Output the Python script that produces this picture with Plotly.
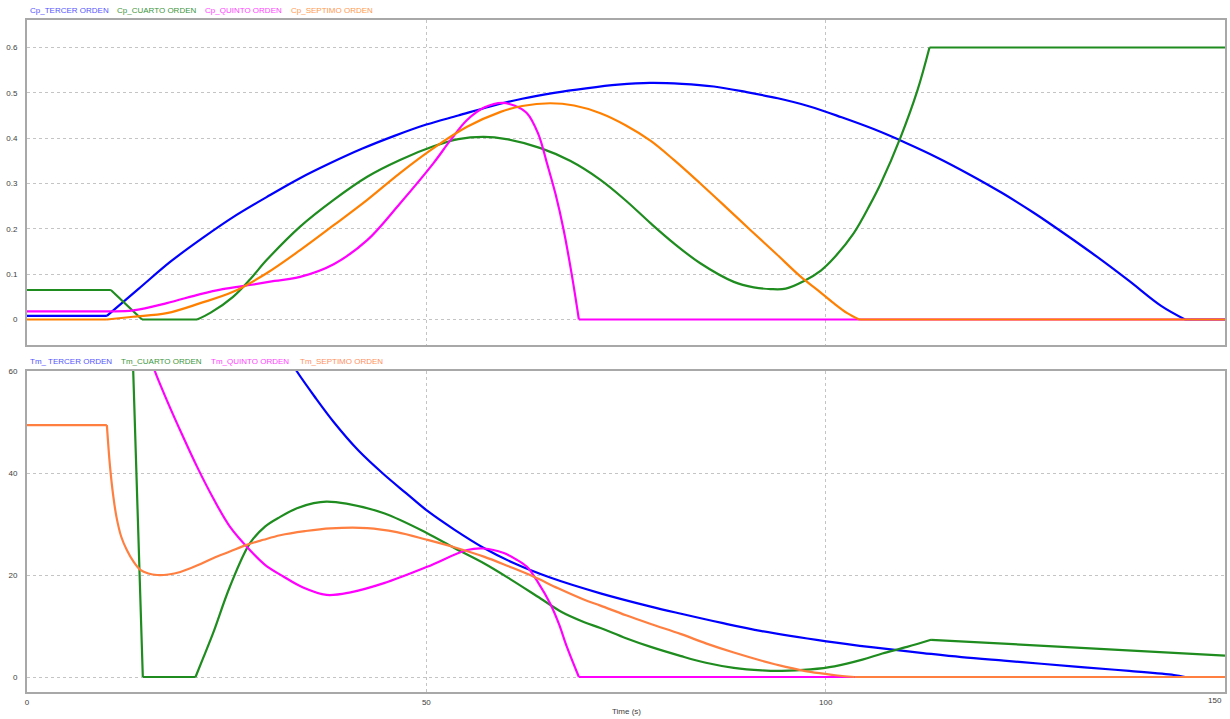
import plotly.graph_objects as go

# ---------------- Data ----------------
# Top panel: Cp
t_cp_tercer = [0, 10, 14, 18, 22, 26, 30, 34, 38, 42, 46, 50, 54, 58, 62, 66, 70, 74, 78, 82, 86, 90,
               94, 98, 102, 106, 110, 114, 118, 122, 126, 130, 134, 138, 142, 145, 150]
cp_tercer = [0.008, 0.008, 0.068, 0.128, 0.18, 0.228, 0.27, 0.31, 0.345, 0.377, 0.405, 0.43, 0.45, 0.47,
             0.487, 0.50, 0.51, 0.518, 0.522, 0.52, 0.514, 0.502, 0.488, 0.47, 0.446, 0.42, 0.39, 0.357,
             0.32, 0.28, 0.236, 0.188, 0.138, 0.085, 0.03, 0.0, 0.0]

t_cp_cuarto = [0, 10.5, 14.4, 21.3, 23, 25.8, 28, 30, 34.2, 38.4, 42.6, 46.7, 50.9, 54, 57.2, 60, 64.3,
               68, 71.8, 75, 78.1, 81, 84.3, 88.5, 91, 93.1, 95, 97.3, 99.4, 101, 103.5, 105.6, 106.9,
               109.4, 111.5, 113, 150]
cp_cuarto = [0.065, 0.065, 0.0, 0.0, 0.015, 0.05, 0.09, 0.131, 0.205, 0.264, 0.315, 0.352, 0.382, 0.398,
             0.403, 0.398, 0.378, 0.35, 0.308, 0.262, 0.212, 0.168, 0.124, 0.083, 0.071, 0.067, 0.068,
             0.085, 0.108, 0.135, 0.19, 0.255, 0.3, 0.403, 0.506, 0.6, 0.6]

t_cp_quinto = [0, 11, 13.3, 17.5, 21.7, 24.5, 27.9, 31, 34.2, 38.4, 42.6, 46.7, 50.9, 53, 55.1, 57.3,
               59.5, 61, 62.6, 64, 65.1, 66.2, 67.2, 68.2, 69.1, 150]
cp_quinto = [0.018, 0.018, 0.02, 0.036, 0.056, 0.067, 0.076, 0.085, 0.094, 0.122, 0.175, 0.256, 0.345,
             0.395, 0.44, 0.468, 0.478, 0.472, 0.455, 0.41, 0.345, 0.275, 0.197, 0.1, 0.0, 0.0]

t_cp_septimo = [0, 10, 13.3, 17.5, 21.7, 25.8, 30, 34.2, 38.4, 42.6, 46.7, 50.9, 55.1, 59.3, 62, 65.5,
                68.5, 71.8, 75, 78.1, 81, 84.3, 87.5, 90.6, 93.8, 96.9, 99, 101, 102.7, 104.2, 150]
cp_septimo = [0.0, 0.0, 0.006, 0.014, 0.036, 0.061, 0.102, 0.153, 0.208, 0.264, 0.323, 0.378, 0.425,
              0.458, 0.471, 0.477, 0.472, 0.455, 0.428, 0.394, 0.352, 0.3, 0.248, 0.197, 0.145, 0.094,
              0.065, 0.036, 0.014, 0.0, 0.0]

# Bottom panel: Tm
t_tm_tercer = [32.5, 33.8, 36, 38.4, 41.5, 44.7, 47.5, 50.1, 53.5, 57.2, 61, 65.5, 71.8, 78.1, 81.9,
               87, 92, 100.1, 106, 112.2, 117, 122.3, 127, 132.4, 138, 143.6, 145, 150]
tm_tercer = [63.2, 59.9, 55.0, 50.0, 44.4, 39.7, 36.0, 32.6, 28.9, 25.3, 22.3, 19.5, 16.4, 13.8, 12.4,
             10.6, 9.0, 7.0, 5.8, 4.7, 3.9, 3.2, 2.6, 1.9, 1.2, 0.4, 0.0, 0.0]

t_tm_cuarto = [13.0, 13.3, 14.5, 21.1, 22, 23.3, 25.4, 27.9, 29.8, 31.7, 33.8, 35.9, 37.5, 40, 44.7,
               50.1, 53.5, 57.2, 60.5, 64.3, 67, 69.7, 71.8, 75, 78.1, 81.9, 85, 88.5, 92, 94.5, 98.1,
               101.1, 104.6, 107.1, 110.2, 113.2, 150]
tm_cuarto = [70, 60, 0, 0, 3.5, 8.6, 17.7, 26.2, 29.5, 31.4, 33.1, 34.1, 34.4, 34.0, 32.1, 28.2, 25.3,
             22.3, 19.2, 15.4, 12.7, 10.8, 9.6, 7.6, 5.9, 4.1, 2.8, 1.8, 1.3, 1.2, 1.5, 2.1, 3.4, 4.6,
             5.9, 7.3, 4.2]

t_tm_quinto = [15.5, 16.0, 17.5, 19.4, 21.3, 23.3, 25.4, 27.9, 29.8, 32.1, 34.5, 37.5, 40.5, 44.7, 50.1,
               55.1, 57.2, 59.7, 61.2, 62.6, 64, 65.5, 66.6, 67.6, 69.1, 150]
tm_quinto = [62.5, 60, 54.3, 47.6, 41.2, 35.1, 29.5, 24.9, 22.0, 19.7, 17.6, 16.1, 16.6, 18.4, 21.6,
             24.9, 25.2, 24.3, 23.1, 21.6, 18.5, 14.4, 10.4, 5.9, 0, 0]

t_tm_septimo = [0, 10, 10.4, 10.8, 11.2, 11.8, 12.5, 13.3, 14.2, 15.2, 16.3, 17.7, 19.2, 21.2, 23.3,
                25.4, 27.5, 29.6, 31.7, 34.8, 38, 42.6, 46.3, 50.1, 53.6, 57.2, 60.3, 63.4, 66.5, 69.7,
                71.8, 75, 78.1, 81.9, 85, 88.5, 92, 95, 98.1, 101, 103.6, 150]
tm_septimo = [49.4, 49.4, 41.2, 35.5, 31.4, 27.5, 24.9, 22.7, 21.0, 20.3, 20.0, 20.1, 20.6, 21.8, 23.3,
              24.6, 25.9, 26.9, 27.8, 28.6, 29.15, 29.2, 28.4, 26.9, 25.4, 23.6, 21.7, 19.7, 17.4, 15.2,
              14.0, 12.1, 10.4, 8.4, 6.6, 4.8, 3.2, 2.0, 1.0, 0.4, 0.0, 0.0]

top_names = ["Cp_TERCER ORDEN", "Cp_CUARTO ORDEN", "Cp_QUINTO ORDEN", "Cp_SEPTIMO ORDEN"]
bot_names = ["Tm_ TERCER ORDEN", "Tm_CUARTO ORDEN", "Tm_QUINTO ORDEN", "Tm_SEPTIMO ORDEN"]

x_ticks = [0, 50, 100, 150]
x_ticktext = ["0", "50", "100", "150"]
top_yticks = [0, 0.1, 0.2, 0.3, 0.4, 0.5, 0.6]
top_yticktext = ["0", "0.1", "0.2", "0.3", "0.4", "0.5", "0.6"]
bot_yticks = [0, 20, 40, 60]
x_title = "Time (s)"

# Extra kink times (besides the ends of flat runs) where curves have sharp corners
kinks_tm_cuarto = [113.2]

# ---------------- Styling ----------------
top_colors = ["#0000ff", "#1e8c1e", "#ff00ff", "#ff8000"]
bot_colors = ["#0000ff", "#1e8c1e", "#ff00ff", "#ff7f40"]
label_colors_top = ["#5555ff", "#3c963c", "#ff44ff", "#ff9a50"]
label_colors_bot = ["#5555ff", "#3c963c", "#ff44ff", "#ff9060"]
FONT = "Liberation Sans, Arial, sans-serif"

W, H = 1230, 719
ML, MR, MT, MB = 27, 5, 20, 27
PW = W - ML - MR
PH = H - MT - MB


def py(pix):  # pixel y (from top) -> paper coord
    return (H - MB - pix) / PH


def px(pix):
    return (pix - ML) / PW


def break_indices(tx, vy, kinks=()):
    """Indices where the curve has a sharp corner: ends of flat runs and given kinks."""
    idx = {0, len(vy) - 1}
    for i in range(1, len(vy) - 1):
        if vy[i] == vy[i - 1] or vy[i] == vy[i + 1]:
            idx.add(i)
        if tx[i] in kinks:
            idx.add(i)
    return sorted(idx)


fig = go.Figure()


def add_series(tx, vy, name, col, xa, ya, kinks=()):
    b = break_indices(tx, vy, kinks)
    for k in range(len(b) - 1):
        i, j = b[k], b[k + 1]
        fig.add_trace(go.Scatter(x=tx[i:j + 1], y=vy[i:j + 1], mode="lines", name=name,
                                 showlegend=False, hoverinfo="x+y+name",
                                 line=dict(color=col, width=2.2, shape="spline", smoothing=1.0),
                                 xaxis=xa, yaxis=ya))


top_series = [(t_cp_tercer, cp_tercer, ()), (t_cp_cuarto, cp_cuarto, ()), (t_cp_quinto, cp_quinto, ()),
              (t_cp_septimo, cp_septimo, ())]
bot_series = [(t_tm_tercer, tm_tercer, ()), (t_tm_cuarto, tm_cuarto, kinks_tm_cuarto),
              (t_tm_quinto, tm_quinto, ()), (t_tm_septimo, tm_septimo, ())]

for (tx, vy, kk), name, col in zip(top_series, top_names, top_colors):
    add_series(tx, vy, name, col, "x", "y", kk)
for (tx, vy, kk), name, col in zip(bot_series, bot_names, bot_colors):
    add_series(tx, vy, name, col, "x2", "y2", kk)

tickfont = dict(family=FONT, size=8, color="#404040")
frame = dict(showline=True, linecolor="#a8a8a8", linewidth=2, mirror=True,
             showgrid=True, gridcolor="#c4c4c4", gridwidth=1, griddash="dot",
             zeroline=False, ticks="", tickfont=tickfont, automargin=False)

top_domain = [py(345), py(20)]
bot_domain = [py(692), py(371)]

fig.update_layout(
    width=W, height=H,
    margin=dict(l=ML, r=MR, t=MT, b=MB, autoexpand=False),
    paper_bgcolor="white", plot_bgcolor="white",
    font=dict(family=FONT, size=8, color="#404040"),
    hovermode="closest",
    xaxis=dict(domain=[0, 1], range=[0, 150], anchor="y", tickvals=x_ticks,
               showticklabels=False, **frame),
    yaxis=dict(domain=top_domain, range=[-0.0563, 0.6607], anchor="x",
               tickvals=top_yticks, ticktext=top_yticktext, ticklabelstandoff=6, **frame),
    # last x tick label is drawn as an annotation so it stays inside the page
    xaxis2=dict(domain=[0, 1], range=[0, 150], anchor="y2", tickvals=x_ticks[:-1],
                ticktext=x_ticktext[:-1], ticklabelstandoff=1, **frame),
    yaxis2=dict(domain=bot_domain, range=[-2.94, 60], anchor="x2",
                tickvals=bot_yticks, ticklabelstandoff=6, **frame),
)

# last x tick label (right-aligned at the axis end, as in the reference)
fig.add_annotation(text=x_ticktext[-1], x=x_ticks[-1], y=py(700), xref="x2", yref="paper",
                   xanchor="right", yanchor="middle", showarrow=False, xshift=-1,
                   font=dict(size=8, color="#404040", family=FONT))

# x-axis title
fig.add_annotation(text=x_title, x=0.5, y=py(712), xref="paper", yref="paper",
                   xanchor="center", yanchor="middle", showarrow=False,
                   font=dict(size=8, color="#404040", family=FONT))

top_label_x = [28, 115, 203, 289]
bot_label_x = [28, 119, 209, 298]
for name, xpix, col in zip(top_names, top_label_x, label_colors_top):
    fig.add_annotation(text=name, x=px(xpix), y=py(10), xref="paper", yref="paper",
                       xanchor="left", yanchor="middle", showarrow=False,
                       font=dict(size=8, color=col, family=FONT))
for name, xpix, col in zip(bot_names, bot_label_x, label_colors_bot):
    fig.add_annotation(text=name, x=px(xpix), y=py(361), xref="paper", yref="paper",
                       xanchor="left", yanchor="middle", showarrow=False,
                       font=dict(size=8, color=col, family=FONT))

fig.write_html("out.html",
               config={"displayModeBar": False},
               post_script="document.body.style.margin='0';"
                           "document.body.style.overflow='hidden';")
